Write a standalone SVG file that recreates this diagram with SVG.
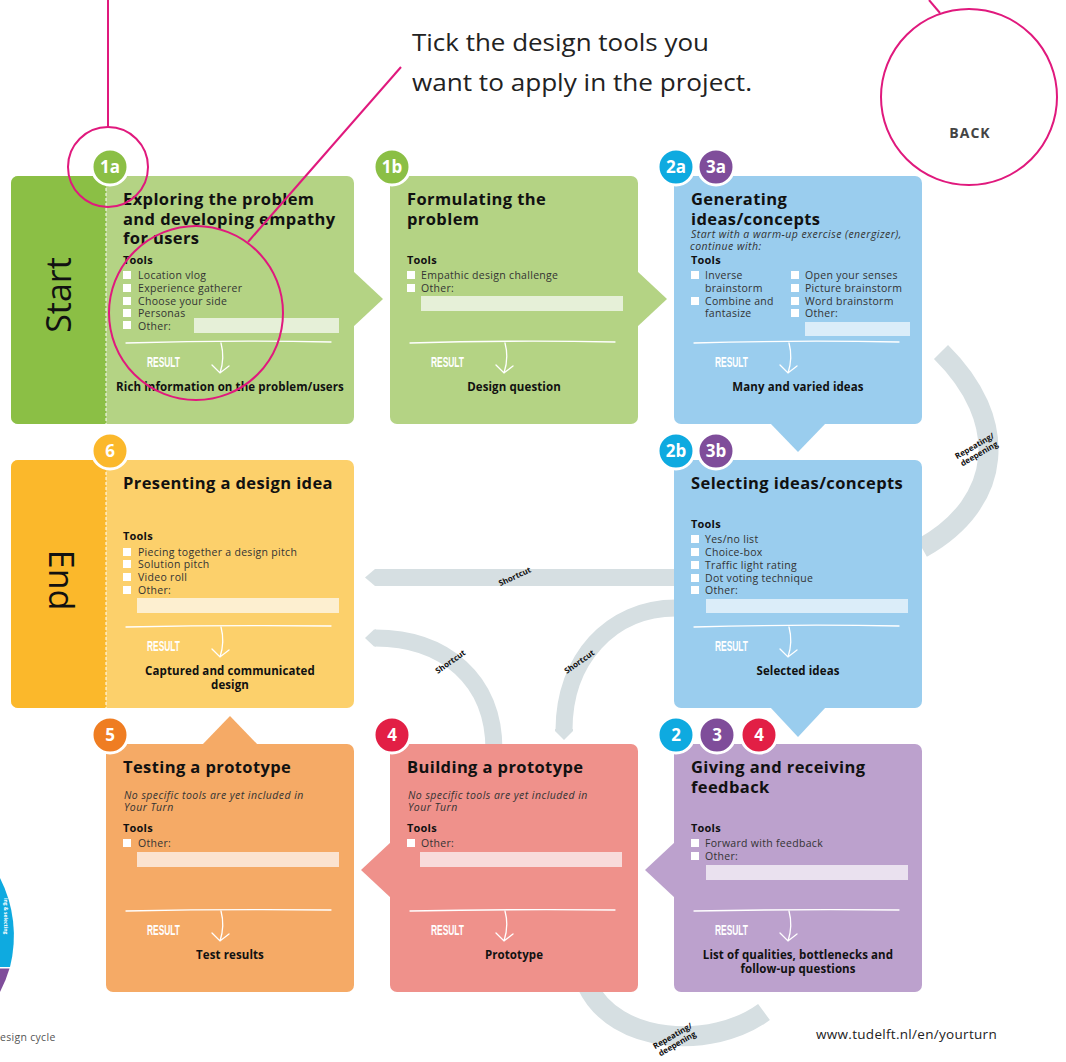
<svg xmlns="http://www.w3.org/2000/svg" width="1066" height="1062" viewBox="0 0 1066 1062">
<style>
text{font-family:"Open Sans","Noto Sans","Liberation Sans",sans-serif;fill:#111}
.t{font-size:16.5px;font-weight:700;letter-spacing:0.4px}
.tl{font-size:11px;font-weight:700;letter-spacing:0.2px}
.it{font-size:10.5px;fill:#333;letter-spacing:0.3px}
.em{font-size:10.5px;font-style:italic;fill:#333;letter-spacing:0.45px}
.res{font-size:11.5px;font-weight:700;text-anchor:middle;letter-spacing:0.1px}
.rl{font-family:"Liberation Sans",sans-serif;font-size:15px;font-weight:700;fill:#fff}
.bd{font-size:17px;font-weight:700;fill:#fff;text-anchor:middle}
.cb{fill:#fff}
.wl{fill:none;stroke:#fff;stroke-width:1.3;stroke-linecap:round}
.band{fill:none;stroke:#d6dfe2}
.lab{font-size:8px;font-weight:700;text-anchor:middle}
.pk{fill:none;stroke:#e0197d;stroke-width:2}
.big{font-size:34px;font-weight:400;text-anchor:middle}
</style>

<!-- connectors -->
<g id="connectors">
  <path class="band" stroke-width="20" d="M941 352 C1010 420 1004 502 922 548"/>
  <polygon fill="#d6dfe2" points="674,569 375,569 365,577.5 375,586 674,586"/>
  <path class="band" stroke-width="17" d="M676 608 C610 608 564 660 564 730"/>
  <polygon fill="#d6dfe2" points="555,729 573,729 573,731 564,740 555,731"/>
  <path class="band" stroke-width="17" d="M375 638 C445 638 494 680 494 750"/>
  <polygon fill="#d6dfe2" points="376,629.5 376,646.5 374,646.5 365,638 374,629.5"/>
  <path class="band" stroke-width="20" d="M587 985 C615 1045 712 1050 764 1012"/>
  <g transform="translate(977,450) rotate(-30)"><text class="lab" y="-2">Repeating/</text><text class="lab" y="7">deepening</text></g>
  <g transform="translate(675,1040) rotate(-30)"><text class="lab" y="-2">Repeating/</text><text class="lab" y="7">deepening</text></g>
  <text class="lab" transform="translate(516,579) rotate(-25)">Shortcut</text>
  <text class="lab" transform="translate(452,664) rotate(-35)">Shortcut</text>
  <text class="lab" transform="translate(581,664) rotate(-35)">Shortcut</text>
</g>

<!-- card 1a -->
<g id="node-1a">
  <rect x="11" y="176" width="343" height="248" rx="7" fill="#b4d384"/>
  <polygon points="353,271 383,299 353,327" fill="#b4d384"/>
  <path d="M18 176 H106 V424 H18 A7 7 0 0 1 11 417 V183 A7 7 0 0 1 18 176Z" fill="#8bbf45"/>
  <line x1="106" y1="178" x2="106" y2="424" stroke="#fff" stroke-width="1" stroke-dasharray="3,2"/>
  <text class="big" transform="translate(71,295) rotate(-90)">Start</text>
  <circle cx="110" cy="167" r="18" fill="#8bbf45" stroke="#fff" stroke-width="3"/>
  <text class="bd" x="110" y="173">1a</text>
  <text class="t" x="123" y="205">Exploring the problem</text>
  <text class="t" x="123" y="225">and developing empathy</text>
  <text class="t" x="123" y="244">for users</text>
  <text class="tl" x="123" y="264">Tools</text>
  <rect class="cb" x="123" y="271" width="8" height="8"/><text class="it" x="138" y="279">Location vlog</text>
  <rect class="cb" x="123" y="284" width="8" height="8"/><text class="it" x="138" y="292">Experience gatherer</text>
  <rect class="cb" x="123" y="297" width="8" height="8"/><text class="it" x="138" y="305">Choose your side</text>
  <rect class="cb" x="123" y="309" width="8" height="8"/><text class="it" x="138" y="317">Personas</text>
  <rect class="cb" x="123" y="321" width="8" height="8"/><text class="it" x="138" y="330">Other:</text>
  <rect x="194" y="318" width="145" height="15" fill="#e6f0d8"/>
  <path class="wl" d="M126 343 Q228 340 331 342"/>
  <path class="wl" d="M221 343 Q225 358 220 373 M212 365 L220 373 L229 366"/>
  <text class="rl" x="147" y="367" textLength="33" lengthAdjust="spacingAndGlyphs">RESULT</text>
  <text class="res" x="230" y="391">Rich information on the problem/users</text>
</g>

<!-- card 1b -->
<g id="node-1b">
  <rect x="390" y="176" width="248" height="248" rx="7" fill="#b4d384"/>
  <polygon points="637,271 667,299 637,327" fill="#b4d384"/>
  <circle cx="392" cy="167" r="18" fill="#8bbf45" stroke="#fff" stroke-width="3"/>
  <text class="bd" x="392" y="173">1b</text>
  <text class="t" x="407" y="205">Formulating the</text>
  <text class="t" x="407" y="225">problem</text>
  <text class="tl" x="407" y="264">Tools</text>
  <rect class="cb" x="407" y="271" width="8" height="8"/><text class="it" x="421" y="279">Empathic design challenge</text>
  <rect class="cb" x="407" y="284" width="8" height="8"/><text class="it" x="421" y="292">Other:</text>
  <rect x="421" y="296" width="202" height="15" fill="#e6f0d8"/>
  <path class="wl" d="M410 343 Q512 340 615 342"/>
  <path class="wl" d="M505 343 Q509 358 504 373 M496 365 L504 373 L513 366"/>
  <text class="rl" x="431" y="367" textLength="33" lengthAdjust="spacingAndGlyphs">RESULT</text>
  <text class="res" x="514" y="391">Design question</text>
</g>

<!-- card 2a/3a -->
<g id="node-2a3a">
  <rect x="674" y="176" width="248" height="248" rx="7" fill="#9acdee"/>
  <polygon points="770,423 798,452 826,423" fill="#9acdee"/>
  <circle cx="676" cy="167" r="18" fill="#0eaae0" stroke="#fff" stroke-width="3"/>
  <text class="bd" x="676" y="173">2a</text>
  <circle cx="716" cy="167" r="18" fill="#7f4d9a" stroke="#fff" stroke-width="3"/>
  <text class="bd" x="716" y="173">3a</text>
  <text class="t" x="691" y="205">Generating</text>
  <text class="t" x="691" y="225">ideas/concepts</text>
  <text class="em" x="691" y="238">Start with a warm-up exercise (energizer),</text>
  <text class="em" x="690" y="250">continue with:</text>
  <text class="tl" x="691" y="264">Tools</text>
  <rect class="cb" x="691" y="271" width="8" height="8"/><text class="it" x="705" y="279">Inverse</text>
  <text class="it" x="705" y="292">brainstorm</text>
  <rect class="cb" x="691" y="297" width="8" height="8"/><text class="it" x="705" y="305">Combine and</text>
  <text class="it" x="705" y="317">fantasize</text>
  <rect class="cb" x="791" y="271" width="8" height="8"/><text class="it" x="805" y="279">Open your senses</text>
  <rect class="cb" x="791" y="284" width="8" height="8"/><text class="it" x="805" y="292">Picture brainstorm</text>
  <rect class="cb" x="791" y="297" width="8" height="8"/><text class="it" x="805" y="305">Word brainstorm</text>
  <rect class="cb" x="791" y="309" width="8" height="8"/><text class="it" x="805" y="317">Other:</text>
  <rect x="805" y="322" width="105" height="14" fill="#dbedf9"/>
  <path class="wl" d="M694 343 Q796 340 899 342"/>
  <path class="wl" d="M789 343 Q793 358 788 373 M780 365 L788 373 L797 366"/>
  <text class="rl" x="715" y="367" textLength="33" lengthAdjust="spacingAndGlyphs">RESULT</text>
  <text class="res" x="798" y="391">Many and varied ideas</text>
</g>

<!-- card 2b/3b -->
<g id="node-2b3b">
  <rect x="674" y="460" width="248" height="248" rx="7" fill="#9acdee"/>
  <polygon points="770,707 798,737 826,707" fill="#9acdee"/>
  <circle cx="676" cy="451" r="18" fill="#0eaae0" stroke="#fff" stroke-width="3"/>
  <text class="bd" x="676" y="457">2b</text>
  <circle cx="716" cy="451" r="18" fill="#7f4d9a" stroke="#fff" stroke-width="3"/>
  <text class="bd" x="716" y="457">3b</text>
  <text class="t" x="691" y="489">Selecting ideas/concepts</text>
  <text class="tl" x="691" y="528">Tools</text>
  <rect class="cb" x="691" y="535" width="8" height="8"/><text class="it" x="705" y="543">Yes/no list</text>
  <rect class="cb" x="691" y="548" width="8" height="8"/><text class="it" x="705" y="556">Choice-box</text>
  <rect class="cb" x="691" y="561" width="8" height="8"/><text class="it" x="705" y="569">Traffic light rating</text>
  <rect class="cb" x="691" y="574" width="8" height="8"/><text class="it" x="705" y="582">Dot voting technique</text>
  <rect class="cb" x="691" y="586" width="8" height="8"/><text class="it" x="705" y="594">Other:</text>
  <rect x="706" y="599" width="202" height="14" fill="#dbedf9"/>
  <path class="wl" d="M694 627 Q796 624 899 626"/>
  <path class="wl" d="M789 627 Q793 642 788 657 M780 649 L788 657 L797 650"/>
  <text class="rl" x="715" y="651" textLength="33" lengthAdjust="spacingAndGlyphs">RESULT</text>
  <text class="res" x="798" y="675">Selected ideas</text>
</g>

<!-- card 6 -->
<g id="node-6">
  <rect x="11" y="460" width="343" height="248" rx="7" fill="#fcd06b"/>
  <path d="M18 460 H106 V708 H18 A7 7 0 0 1 11 701 V467 A7 7 0 0 1 18 460Z" fill="#fbb82b"/>
  <line x1="106" y1="462" x2="106" y2="708" stroke="#fff" stroke-width="1" stroke-dasharray="3,2"/>
  <text class="big" transform="translate(49,580) rotate(90)">End</text>
  <circle cx="110" cy="451" r="18" fill="#fbb82b" stroke="#fff" stroke-width="3"/>
  <text class="bd" x="110" y="457">6</text>
  <text class="t" x="123" y="489">Presenting a design idea</text>
  <text class="tl" x="123" y="540">Tools</text>
  <rect class="cb" x="123" y="548" width="8" height="8"/><text class="it" x="138" y="556">Piecing together a design pitch</text>
  <rect class="cb" x="123" y="560" width="8" height="8"/><text class="it" x="138" y="568">Solution pitch</text>
  <rect class="cb" x="123" y="573" width="8" height="8"/><text class="it" x="138" y="581">Video roll</text>
  <rect class="cb" x="123" y="586" width="8" height="8"/><text class="it" x="138" y="594">Other:</text>
  <rect x="137" y="598" width="202" height="15" fill="#fdefd0"/>
  <path class="wl" d="M126 627 Q228 625 331 626"/>
  <path class="wl" d="M221 627 Q225 642 220 657 M212 649 L220 657 L229 650"/>
  <text class="rl" x="147" y="651" textLength="33" lengthAdjust="spacingAndGlyphs">RESULT</text>
  <text class="res" x="230" y="675">Captured and communicated</text>
  <text class="res" x="230" y="689">design</text>
</g>

<!-- card 5 -->
<g id="node-5">
  <rect x="106" y="744" width="248" height="248" rx="7" fill="#f5aa66"/>
  <polygon points="202,745 230,716 258,745" fill="#f5aa66"/>
  <circle cx="110" cy="735" r="18" fill="#ef7d22" stroke="#fff" stroke-width="3"/>
  <text class="bd" x="110" y="741">5</text>
  <text class="t" x="123" y="773">Testing a prototype</text>
  <text class="em" x="124" y="799">No specific tools are yet included in</text>
  <text class="em" x="124" y="811">Your Turn</text>
  <text class="tl" x="123" y="832">Tools</text>
  <rect class="cb" x="123" y="839" width="8" height="8"/><text class="it" x="138" y="847">Other:</text>
  <rect x="137" y="852" width="202" height="15" fill="#fbe3d0"/>
  <path class="wl" d="M126 911 Q228 909 331 910"/>
  <path class="wl" d="M221 911 Q225 926 220 941 M212 933 L220 941 L229 934"/>
  <text class="rl" x="147" y="935" textLength="33" lengthAdjust="spacingAndGlyphs">RESULT</text>
  <text class="res" x="230" y="959">Test results</text>
</g>

<!-- card 4 -->
<g id="node-4">
  <rect x="390" y="744" width="248" height="248" rx="7" fill="#ef918b"/>
  <polygon points="391,842 361,870 391,898" fill="#ef918b"/>
  <circle cx="392" cy="735" r="18" fill="#e21f45" stroke="#fff" stroke-width="3"/>
  <text class="bd" x="392" y="741">4</text>
  <text class="t" x="407" y="773">Building a prototype</text>
  <text class="em" x="408" y="799">No specific tools are yet included in</text>
  <text class="em" x="408" y="811">Your Turn</text>
  <text class="tl" x="407" y="832">Tools</text>
  <rect class="cb" x="407" y="839" width="8" height="8"/><text class="it" x="421" y="847">Other:</text>
  <rect x="420" y="852" width="202" height="15" fill="#f8dbdb"/>
  <path class="wl" d="M410 911 Q512 909 615 910"/>
  <path class="wl" d="M505 911 Q509 926 504 941 M496 933 L504 941 L513 934"/>
  <text class="rl" x="431" y="935" textLength="33" lengthAdjust="spacingAndGlyphs">RESULT</text>
  <text class="res" x="514" y="959">Prototype</text>
</g>

<!-- card 2/3/4 -->
<g id="node-234">
  <rect x="674" y="744" width="248" height="248" rx="7" fill="#bca1cd"/>
  <polygon points="675,842 645,870 675,898" fill="#bca1cd"/>
  <circle cx="676" cy="735" r="18" fill="#0eaae0" stroke="#fff" stroke-width="3"/>
  <text class="bd" x="676" y="741">2</text>
  <circle cx="717" cy="735" r="18" fill="#7f4d9a" stroke="#fff" stroke-width="3"/>
  <text class="bd" x="717" y="741">3</text>
  <circle cx="759" cy="735" r="18" fill="#e21f45" stroke="#fff" stroke-width="3"/>
  <text class="bd" x="759" y="741">4</text>
  <text class="t" x="691" y="773">Giving and receiving</text>
  <text class="t" x="691" y="793">feedback</text>
  <text class="tl" x="691" y="832">Tools</text>
  <rect class="cb" x="691" y="839" width="8" height="8"/><text class="it" x="705" y="847">Forward with feedback</text>
  <rect class="cb" x="691" y="852" width="8" height="8"/><text class="it" x="705" y="860">Other:</text>
  <rect x="706" y="865" width="202" height="15" fill="#eae1ef"/>
  <path class="wl" d="M694 911 Q796 909 899 910"/>
  <path class="wl" d="M789 911 Q793 926 788 941 M780 933 L788 941 L797 934"/>
  <text class="rl" x="715" y="935" textLength="33" lengthAdjust="spacingAndGlyphs">RESULT</text>
  <text class="res" x="798" y="959">List of qualities, bottlenecks and</text>
  <text class="res" x="798" y="973">follow-up questions</text>
</g>

<!-- annotations -->
<g id="annotations">
  <line class="pk" x1="108" y1="0" x2="108" y2="127"/>
  <circle class="pk" cx="108" cy="167" r="40"/>
  <circle class="pk" cx="196" cy="313" r="87"/>
  <line class="pk" x1="401" y1="67" x2="248" y2="242"/>
  <line class="pk" x1="929" y1="0" x2="940" y2="13"/>
  <circle class="pk" cx="969" cy="97" r="88"/>
  <text x="970" y="138" style="font-size:14px;font-weight:700;fill:#444;letter-spacing:1px" text-anchor="middle">BACK</text>
  <text x="412" y="51" textLength="297" lengthAdjust="spacingAndGlyphs" style="font-size:23px;fill:#222;font-weight:400">Tick the design tools you</text>
  <text x="412" y="91" textLength="340" lengthAdjust="spacingAndGlyphs" style="font-size:23px;fill:#222;font-weight:400">want to apply in the project.</text>
  <text x="816" y="1039" style="font-size:13.5px;fill:#222;letter-spacing:0.3px">www.tudelft.nl/en/yourturn</text>
</g>

<!-- partial design cycle wheel -->
<g id="wheel">
  <path d="M0 878 L0 967 L10 967 A127 127 0 0 0 0 878Z" fill="#0eaae0"/>
  <path d="M0 968.5 L9.5 968.5 A127 127 0 0 1 0 992Z" fill="#7f4d9a"/>
  <text transform="translate(4,898) rotate(90)" style="font-size:5px;font-weight:700;fill:#fff">ing &amp; selecting</text>
  <text x="0" y="1041" style="font-size:10.5px;fill:#555;letter-spacing:0.3px">esign cycle</text>
</g>
</svg>
